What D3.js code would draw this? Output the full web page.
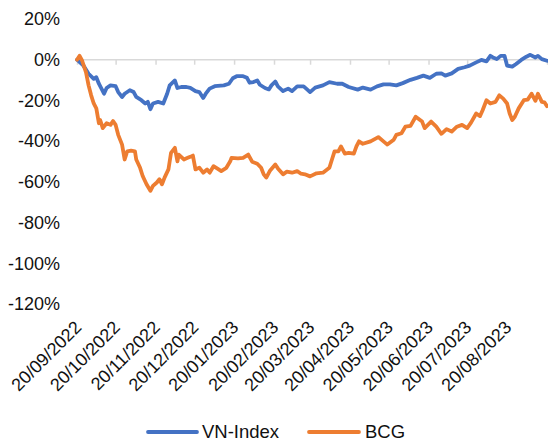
<!DOCTYPE html>
<html>
<head>
<meta charset="utf-8">
<script src="https://cdn.jsdelivr.net/npm/d3@7"></script>
<style>
  html, body { margin: 0; padding: 0; background: #fff; }
  svg { display: block; }
  text { font-family: "Liberation Sans", Arial, sans-serif; fill: #111; }
</style>
</head>
<body>
<svg id="chart" width="548" height="443"></svg>
<script>
// ---- data (cumulative performance, %) ----
const seriesNames = ["VN-Index", "BCG"];
const seriesColors = ["#4472C4", "#ED7D31"];

const vnDates = ["2022-09-20","2022-09-25","2022-09-29","2022-10-03","2022-10-05","2022-10-07","2022-10-09","2022-10-11","2022-10-13","2022-10-16","2022-10-20","2022-10-22","2022-10-25","2022-10-27","2022-10-31","2022-11-03","2022-11-05","2022-11-09","2022-11-12","2022-11-14","2022-11-16","2022-11-18","2022-11-22","2022-11-26","2022-11-29","2022-12-01","2022-12-05","2022-12-07","2022-12-10","2022-12-14","2022-12-17","2022-12-21","2022-12-24","2022-12-27","2022-12-29","2023-01-01","2023-01-05","2023-01-12","2023-01-16","2023-01-19","2023-01-22","2023-01-27","2023-01-30","2023-02-01","2023-02-04","2023-02-07","2023-02-09","2023-02-13","2023-02-16","2023-02-18","2023-02-21","2023-02-23","2023-02-27","2023-03-03","2023-03-06","2023-03-10","2023-03-15","2023-03-17","2023-03-20","2023-03-24","2023-03-30","2023-04-04","2023-04-10","2023-04-14","2023-04-19","2023-04-26","2023-04-30","2023-05-06","2023-05-11","2023-05-16","2023-05-21","2023-05-26","2023-05-31","2023-06-06","2023-06-11","2023-06-16","2023-06-21","2023-06-26","2023-06-30","2023-07-03","2023-07-08","2023-07-13","2023-07-18","2023-07-22","2023-07-27","2023-07-31","2023-08-04","2023-08-07","2023-08-09","2023-08-12","2023-08-15","2023-08-18","2023-08-20","2023-08-24","2023-08-27","2023-08-31","2023-09-04","2023-09-07","2023-09-11","2023-09-13","2023-09-16","2023-09-20"];
const vnValues = [0,-2.9,-6.9,-9.4,-8.6,-11.8,-14.2,-16.7,-13.9,-12.6,-13.0,-15.9,-18.3,-16.7,-15.0,-15.9,-18.3,-19.9,-21.5,-20.7,-24.3,-21.5,-20.7,-21.5,-16.7,-12.6,-10.2,-13.9,-13.4,-13.4,-13.8,-15.4,-15.9,-18.8,-16.7,-14.2,-13.0,-12.6,-11.8,-9.1,-8.1,-8.1,-8.9,-11.3,-11.0,-10.2,-12.3,-13.9,-14.6,-12.6,-10.7,-13.1,-15.4,-14.2,-15.4,-13.1,-13.1,-14.2,-15.9,-13.7,-12.6,-11.0,-11.8,-11.8,-13.4,-14.7,-13.7,-14.7,-13.1,-12.1,-12.1,-12.6,-11.5,-9.9,-8.9,-7.8,-8.9,-6.9,-6.7,-7.8,-6.7,-4.5,-3.7,-2.9,-1.3,-0.1,-0.8,1.9,1.1,0.3,1.9,1.9,-2.9,-3.4,-2.1,-0.1,1.5,2.4,1.1,1.9,0.3,-0.5];

const bcgDates = ["2022-09-20","2022-09-22","2022-09-24","2022-09-27","2022-09-29","2022-10-01","2022-10-03","2022-10-05","2022-10-07","2022-10-08","2022-10-10","2022-10-13","2022-10-16","2022-10-18","2022-10-20","2022-10-22","2022-10-25","2022-10-27","2022-10-29","2022-11-01","2022-11-04","2022-11-05","2022-11-08","2022-11-10","2022-11-13","2022-11-16","2022-11-18","2022-11-21","2022-11-23","2022-11-25","2022-11-27","2022-11-30","2022-12-02","2022-12-05","2022-12-07","2022-12-08","2022-12-12","2022-12-15","2022-12-18","2022-12-19","2022-12-21","2022-12-24","2022-12-27","2022-12-30","2023-01-01","2023-01-04","2023-01-08","2023-01-10","2023-01-14","2023-01-17","2023-01-18","2023-01-23","2023-01-27","2023-01-31","2023-02-03","2023-02-07","2023-02-10","2023-02-12","2023-02-14","2023-02-17","2023-02-21","2023-02-23","2023-02-27","2023-03-02","2023-03-06","2023-03-10","2023-03-13","2023-03-16","2023-03-20","2023-03-25","2023-03-30","2023-04-04","2023-04-06","2023-04-08","2023-04-11","2023-04-13","2023-04-16","2023-04-19","2023-04-23","2023-04-25","2023-04-27","2023-04-30","2023-05-06","2023-05-12","2023-05-16","2023-05-19","2023-05-24","2023-05-26","2023-05-30","2023-06-02","2023-06-06","2023-06-10","2023-06-15","2023-06-17","2023-06-22","2023-06-26","2023-06-30","2023-07-04","2023-07-08","2023-07-12","2023-07-16","2023-07-20","2023-07-23","2023-07-27","2023-07-30","2023-08-01","2023-08-04","2023-08-07","2023-08-11","2023-08-14","2023-08-17","2023-08-20","2023-08-22","2023-08-24","2023-08-26","2023-08-29","2023-09-02","2023-09-05","2023-09-08","2023-09-11","2023-09-13","2023-09-16","2023-09-18","2023-09-20"];
const bcgValues = [0,1.9,-0.5,-6.2,-12.6,-17.5,-21.5,-23.9,-31.2,-29.6,-33.6,-31.2,-32.0,-30.1,-32.0,-36.9,-41.7,-49.0,-45.0,-44.7,-45.0,-49.0,-53.1,-57.1,-61.2,-64.4,-62.0,-60.3,-58.7,-61.2,-57.9,-53.9,-45.8,-43.3,-49.9,-46.6,-49.0,-48.2,-47.4,-47.1,-53.9,-53.0,-55.5,-53.9,-55.5,-52.3,-53.9,-54.7,-53.1,-49.9,-48.2,-48.5,-48.2,-46.6,-50.1,-51.1,-53.1,-56.3,-57.9,-54.4,-51.5,-53.4,-56.3,-55.0,-55.5,-54.7,-56.0,-56.3,-57.3,-55.8,-55.5,-53.1,-49.0,-45.0,-45.0,-42.6,-46.1,-45.8,-46.1,-42.6,-40.1,-41.3,-40.1,-38.0,-40.1,-41.7,-39.3,-36.9,-36.1,-32.9,-32.5,-28.0,-30.4,-33.6,-30.4,-32.9,-36.4,-34.1,-35.3,-32.9,-32.0,-33.6,-30.9,-26.4,-27.7,-24.8,-19.9,-21.5,-20.7,-17.5,-19.1,-21.5,-26.4,-29.6,-28.0,-23.9,-19.9,-19.6,-16.7,-20.2,-16.7,-20.7,-20.9,-22.8];

const yTicks = [20, 0, -20, -40, -60, -80, -100, -120];
const xTickLabels = ["20/09/2022","20/10/2022","20/11/2022","20/12/2022","20/01/2023","20/02/2023","20/03/2023","20/04/2023","20/05/2023","20/06/2023","20/07/2023","20/08/2023"];
const xAxisEnd = "20/09/2023";

// ---- drawing ----
const svg = d3.select("#chart");
const parseData = d3.timeParse("%Y-%m-%d");
const parseTick = d3.timeParse("%d/%m/%Y");

const x = d3.scaleTime()
  .domain([parseTick(xTickLabels[0]), parseTick(xAxisEnd)])
  .range([77, 547]);
const y = d3.scaleLinear().domain([-120, 20]).range([304, 19]);

// y tick labels (no axis line)
const yAxis = d3.axisLeft(y).tickValues(yTicks).tickFormat(d => d + "%").tickSize(0).tickPadding(0);
const gy = svg.append("g").attr("transform", "translate(60,0)").call(yAxis);
gy.select(".domain").remove();
gy.selectAll("text").attr("font-size", "18px").attr("fill", "#111")
  .attr("font-family", '"Liberation Sans", Arial, sans-serif');

// horizontal axis line at 0% with tick marks
const tickDates = xTickLabels.map(parseTick).concat([parseTick(xAxisEnd)]);
const xAxis = d3.axisBottom(x).tickValues(tickDates).tickSize(5).tickFormat("");
const gx = svg.append("g").attr("transform", `translate(0,${y(0)})`).call(xAxis);
gx.select(".domain").attr("stroke", "#d9d9d9").attr("stroke-width", 1.5)
  .attr("d", `M${x.range()[0]},0H${x.range()[1] + 2}`);
gx.selectAll(".tick line").attr("stroke", "#d9d9d9").attr("stroke-width", 1.5);

// rotated date labels at the bottom
const labelY = 324;
svg.append("g").selectAll("text")
  .data(xTickLabels)
  .join("text")
  .attr("transform", d => `translate(${x(parseTick(d)) + 1},${labelY}) rotate(-45)`)
  .attr("text-anchor", "end")
  .attr("dy", "0.35em")
  .attr("font-size", "18px")
  .text(d => d);

// lines
const line = d3.line()
  .x(d => x(d.date))
  .y(d => y(d.value));

const vnData = vnDates.map((d, i) => ({ date: parseData(d), value: vnValues[i] }));
const bcgData = bcgDates.map((d, i) => ({ date: parseData(d), value: bcgValues[i] }));

[vnData, bcgData].forEach((data, i) => {
  svg.append("path")
    .datum(data)
    .attr("fill", "none")
    .attr("stroke", seriesColors[i])
    .attr("stroke-width", 3.8)
    .attr("stroke-linejoin", "round")
    .attr("stroke-linecap", "round")
    .attr("d", line);
});

// legend
const legendItems = [
  { name: seriesNames[0], color: seriesColors[0], x1: 148, x2: 197, tx: 202 },
  { name: seriesNames[1], color: seriesColors[1], x1: 309, x2: 359, tx: 365 }
];
const legendY = 432;
const lg = svg.append("g");
legendItems.forEach(it => {
  lg.append("line").attr("x1", it.x1).attr("x2", it.x2).attr("y1", legendY).attr("y2", legendY)
    .attr("stroke", it.color).attr("stroke-width", 3.8).attr("stroke-linecap", "round");
  lg.append("text").attr("x", it.tx).attr("y", legendY).attr("dy", "0.35em")
    .attr("font-size", "18.5px").text(it.name);
});
</script>
</body>
</html>
